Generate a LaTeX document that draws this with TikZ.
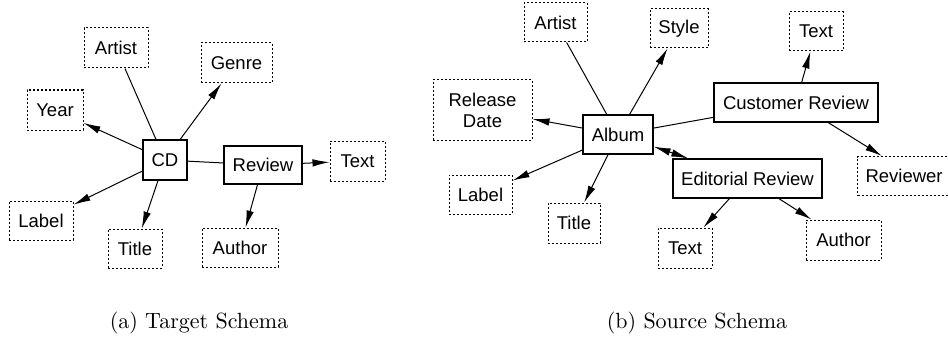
\documentclass[tikz,border=0pt]{standalone}
\usepackage{fontspec}
\usepackage{graphicx}
\newfontfamily\boxfont{Liberation Sans}
\usetikzlibrary{arrows.meta}
\begin{document}
\begin{tikzpicture}[x=1pt,y=-1pt,
  attr/.style={draw,dash pattern=on 2pt off 2pt,line width=1pt,inner sep=2pt,font=\boxfont\fontsize{18.5}{21}\selectfont,align=center},
  ent/.style={draw,line width=1.2pt,inner sep=2pt,font=\boxfont\fontsize{18.5}{21}\selectfont},
  conn/.style={line width=1pt},
  arr/.style={line width=1pt,-{Latex[length=17pt,width=7.5pt]}},
  darr/.style={line width=1pt,{Latex[length=17pt,width=7.5pt]}-{Latex[length=17pt,width=7.5pt]}},
  capt/.style={anchor=base,inner sep=0pt}]
\useasboundingbox (0,0) rectangle (948,337);
% ---- (a) Target Schema ----
\node[ent,minimum width=44pt,minimum height=40pt] (cd) at (165,160) {CD};
\node[ent,minimum width=78pt,minimum height=38pt] (rev) at (263,165) {Review};
\node[attr,minimum width=64pt,minimum height=40pt] (aartist) at (116,48) {Artist};
\node[attr,minimum width=71pt,minimum height=40pt] (agenre) at (236.5,63) {Genre};
\node[attr,minimum width=56pt,minimum height=40pt] (ayear) at (55,110) {Year};
\node[attr,minimum width=55pt,minimum height=40pt] (atext) at (357.5,161) {Text};
\node[attr,minimum width=64pt,minimum height=39pt] (alabel) at (41,220.5) {Label};
\node[attr,minimum width=54pt,minimum height=39pt] (atitle) at (135,248.5) {Title};
\node[attr,minimum width=76pt,minimum height=39pt] (aauthor) at (240,247.5) {Author};
\draw[conn] (cd) -- (aartist);
\draw[arr] (cd) -- (agenre);
\draw[arr] (cd) -- (ayear);
\draw[arr] (cd) -- (alabel);
\draw[arr] (cd) -- (atitle);
\draw[conn] (cd) -- (rev);
\draw[arr] (rev) -- (atext);
\draw[arr] (rev) -- (aauthor);
% ---- (b) Source Schema ----
\node[ent,minimum width=70pt,minimum height=39pt] (album) at (618,134.5) {Album};
\node[ent,minimum width=164pt,minimum height=39pt] (crev) at (796,102.5) {Customer Review};
\node[ent,minimum width=149pt,minimum height=39pt] (erev) at (747.5,178.5) {Editorial Review};
\node[attr,minimum width=63pt,minimum height=39pt] (bartist) at (555.5,22.5) {Artist};
\node[attr,minimum width=58pt,minimum height=39pt] (bstyle) at (679,28.5) {Style};
\node[attr,minimum width=54pt,minimum height=39pt] (btexttop) at (816,31.5) {Text};
\node[attr,minimum width=99pt,minimum height=60pt] (brelease) at (482.5,110) {Release\\Date};
\node[attr,minimum width=63pt,minimum height=39pt] (blabel) at (480.5,194.5) {Label};
\node[attr,minimum width=52pt,minimum height=40pt] (btitle) at (574,223) {Title};
\node[attr,minimum width=100pt,minimum height=39pt,inner xsep=8pt,anchor=west] (breviewer) at (857,176) {Reviewer\hspace*{20pt}};
\node[attr,minimum width=54pt,minimum height=40pt] (btextbot) at (685,248) {Text};
\node[attr,minimum width=75pt,minimum height=40pt] (bauthor) at (843.5,240) {Author};
\draw[conn] (album) -- (bartist);
\draw[arr] (album) -- (bstyle);
\draw[arr] (album) -- (brelease);
\draw[arr] (album) -- (blabel);
\draw[arr] (album) -- (btitle);
\draw[conn] (album) -- (crev);
\draw[darr] (album) -- (erev);
\draw[arr] (crev) -- (btexttop);
\draw[arr] (crev) -- (breviewer);
\draw[arr] (erev) -- (btextbot);
\draw[arr] (erev) -- (bauthor);
% ---- captions ----
\node[capt] (capa) at (199,328) {\scalebox{2.2}{\fontsize{10}{12}\selectfont\rmfamily(a) Target Schema}};
\node[capt] (capb) at (697,328) {\scalebox{2.2}{\fontsize{10}{12}\selectfont\rmfamily(b) Source Schema}};
\end{tikzpicture}
\end{document}
